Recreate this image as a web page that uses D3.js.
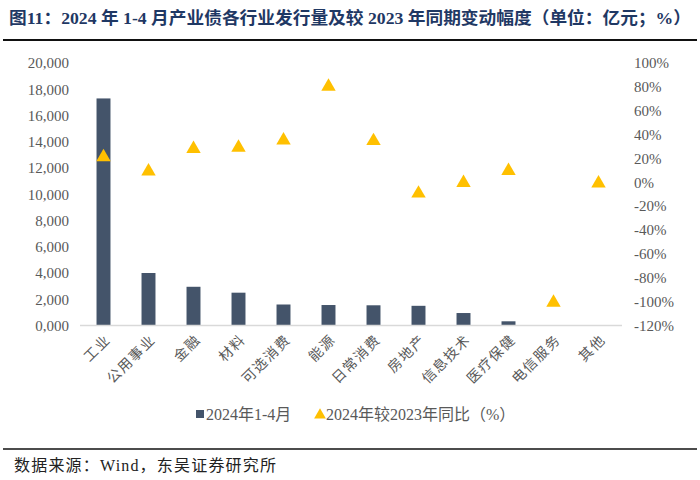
<!DOCTYPE html>
<html><head><meta charset="utf-8">
<script src="https://cdn.jsdelivr.net/npm/d3@7"></script>
<style>body{margin:0;background:#fff}</style>
</head><body><svg id="c" width="700" height="480"></svg>
<script>
const categories = ["工业","公用事业","金融","材料","可选消费","能源","日常消费","房地产","信息技术","医疗保健","电信服务","其他"];
const issuance = [17300, 4000, 2950, 2500, 1600, 1560, 1540, 1500, 950, 320, 0, 20];
const yoy = [22, 10, 29, 30, 36, 81, 35.5, -8.5, 0.5, 10.5, -100, 0];
const leftTicks = [0,2000,4000,6000,8000,10000,12000,14000,16000,18000,20000];
const rightTicks = [-120,-100,-80,-60,-40,-20,0,20,40,60,80,100];
const seriesNames = ["2024年1-4月","2024年较2023年同比（%）"];
const titleText = "图11：2024 年 1-4 月产业债各行业发行量及较 2023 年同期变动幅度（单位：亿元；%）";
const sourceText = "数据来源：Wind，东吴证券研究所";

const svg = d3.select("#c");
const serif = "'Liberation Serif','Times New Roman','Noto Sans CJK SC',serif";
const cjk = "'Noto Sans CJK SC',sans-serif";
const barColor = "#44546a", triColor = "#ffc000", textColor = "#595959";

// title
svg.append("text").attr("x", 9).attr("y", 24).attr("font-family", "'Liberation Serif','Noto Sans CJK SC',serif")
  .attr("font-weight", "bold").attr("font-size", 17).attr("fill", "#1f3864").text(titleText)
  .attr("textLength", 682).attr("lengthAdjust", "spacingAndGlyphs");
svg.append("line").attr("x1", 3).attr("x2", 697).attr("y1", 40).attr("y2", 40).attr("stroke", "#111").attr("stroke-width", 2);

const x = d3.scaleBand().domain(categories).range([81, 621]).paddingInner(0.69).paddingOuter(0.345);
const yL = d3.scaleLinear().domain([0, 20000]).range([325.5, 63]);
const yR = d3.scaleLinear().domain([-120, 100]).range([325.5, 63]);

// left axis
const fmt = d => d === 0 ? "0,000" : d3.format(",")(d);
const gL = svg.append("g").attr("transform", "translate(69,0)")
  .call(d3.axisLeft(yL).tickValues(leftTicks).tickFormat(fmt).tickSize(0).tickPadding(0));
gL.select(".domain").remove();
gL.selectAll("text").attr("font-family", serif).attr("font-size", 15).attr("fill", textColor);

const gR = svg.append("g").attr("transform", "translate(634,0)")
  .call(d3.axisRight(yR).tickValues(rightTicks).tickFormat(d => d + "%").tickSize(0).tickPadding(0));
gR.select(".domain").remove();
gR.selectAll("text").attr("font-family", serif).attr("font-size", 15).attr("fill", textColor);

// bars
svg.append("g").selectAll("rect").data(categories).join("rect")
  .attr("x", d => x(d)).attr("width", x.bandwidth())
  .attr("y", (d, i) => yL(issuance[i])).attr("height", (d, i) => yL(0) - yL(issuance[i]))
  .attr("fill", barColor);

// baseline
svg.append("line").attr("x1", 80).attr("x2", 622).attr("y1", yL(0)).attr("y2", yL(0))
  .attr("stroke", "#d9d9d9").attr("stroke-width", 1.5);

// triangles
const tri = d3.symbol().type(d3.symbolTriangle).size(90);
svg.append("g").selectAll("path").data(categories).join("path")
  .attr("d", tri)
  .attr("transform", (d, i) => `translate(${x(d) + x.bandwidth() / 2},${yR(yoy[i]) + 1})`)
  .attr("fill", triColor);

// category labels
const gX = svg.append("g").attr("transform", `translate(0,${yL(0)})`)
  .call(d3.axisBottom(x).tickSize(0).tickPadding(0));
gX.select(".domain").remove();
gX.selectAll("text").attr("font-family", cjk).attr("font-size", 14).attr("fill", textColor)
  .attr("letter-spacing", 1.5)
  .attr("text-anchor", "end").attr("dy", 0)
  .attr("transform", "translate(8,15) rotate(-45)");

// legend
const lg = svg.append("g");
lg.append("rect").attr("x", 196).attr("y", 410).attr("width", 8).attr("height", 8).attr("fill", barColor);
lg.append("text").attr("x", 206).attr("y", 420).attr("font-family", serif).attr("font-size", 16).attr("fill", textColor).text(seriesNames[0]);
lg.append("path").attr("d", d3.symbol().type(d3.symbolTriangle).size(60)).attr("transform", "translate(320,415)").attr("fill", triColor);
lg.append("text").attr("x", 326).attr("y", 420).attr("font-family", serif).attr("font-size", 16).attr("fill", textColor).text(seriesNames[1]);

// source
svg.append("line").attr("x1", 3).attr("x2", 697).attr("y1", 449).attr("y2", 449).attr("stroke", "#111").attr("stroke-width", 1.5);
svg.append("text").attr("x", 14).attr("y", 471).attr("font-family", serif).attr("font-size", 16).attr("fill", "#222").text(sourceText)
  .attr("textLength", 262).attr("lengthAdjust", "spacing");
</script></body></html>
